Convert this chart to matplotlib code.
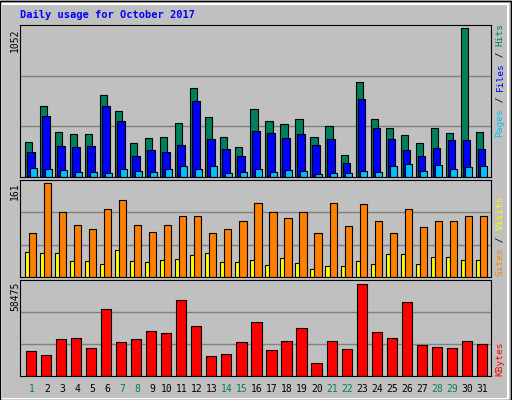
import matplotlib
matplotlib.use('Agg')
import matplotlib.pyplot as plt
from matplotlib.patches import Rectangle
import numpy as np

days = list(range(1, 32))
weekend = [1, 7, 8, 14, 15, 21, 22, 28, 29]

# bar tops read in zoomed pixel rows, converted to values below
hits_px = [427,319,397,403,403,286,334,430,415,412,370,265,352,412,442,328,364,373,358,412,379,466,247,358,385,406,430,385,400,88,397]
files_px = [457,349,439,442,439,319,364,469,451,457,436,304,418,448,469,394,400,415,403,436,418,487,298,385,418,451,469,445,421,421,448]
pages_px = [502,505,508,514,514,517,505,511,514,505,496,505,496,517,514,505,514,508,511,520,517,517,511,514,496,490,511,493,505,499,496]
sites_px = [160,13,100,136,148,91,64,136,157,136,112,112,160,148,124,73,100,115,100,160,73,139,76,124,160,91,142,124,124,112,112]
visits_px = [217,220,220,244,244,253,211,244,247,241,238,226,220,247,247,241,256,235,250,265,259,259,244,253,223,223,253,232,232,241,241]
kbytes_px = [514,526,478,475,505,388,487,478,454,460,361,439,529,523,487,427,511,484,445,547,484,508,313,457,475,367,496,502,505,484,493]

hits = [(530 - y) / 442 * 1052 for y in hits_px]
files = [(530 - y) / 442 * 1052 for y in files_px]
pages = [(530 - y) / 442 * 1052 for y in pages_px]
sites = [(290 - y) / 277 * 161 for y in sites_px]
visits = [(290 - y) / 277 * 161 for y in visits_px]
kbytes = [(587 - y) / 274 * 58475 for y in kbytes_px]

W, H = 512, 400
BG = '#C0C0C0'
fig = plt.figure(figsize=(W / 100, H / 100), dpi=100)
fig.patch.set_facecolor(BG)
fig.patches.append(Rectangle((1, 1), W - 5, H - 5, transform=None, fill=False,
                             edgecolor='white', lw=1.5))
fig.patches.append(Rectangle((0, 0), W - 1, H - 1, transform=None, fill=False,
                             edgecolor='black', lw=1))

mono = 'DejaVu Sans Mono'
ppd = 15.01
x0 = 20
xmax = 471 / ppd
d = np.arange(31)


def make_ax(top, bottom, ymax):
    ax = fig.add_axes([x0 / W, 1 - bottom / H, 471 / W, (bottom - top) / H])
    ax.set_facecolor(BG)
    ax.set_xlim(0, xmax)
    ax.set_ylim(0, ymax)
    ax.set_xticks([])
    ax.set_yticks([])
    for y in (ymax / 3, ymax * 2 / 3):
        ax.axhline(y, color='#808080', lw=1, zorder=0)
    for s in ax.spines.values():
        s.set_color('black')
    return ax


def bars(ax, off, w, vals, color):
    ax.bar(d + off, vals, width=w, align='edge', color=color,
           edgecolor='black', lw=0.8, zorder=2)


# panel 1
ax1 = make_ax(25, 177, 1052 * 147.3 / 147.3 * 1.02)
bars(ax1, 0.353, 0.47, hits, '#00805C')
bars(ax1, 0.486, 0.49, files, '#0000FF')
bars(ax1, 0.64, 0.47, pages, '#00C0FF')

# panel 2
ax2 = make_ax(180, 277, 161 * 1.03)
bars(ax2, 0.353, 0.31, visits, '#FFFF00')
bars(ax2, 0.62, 0.47, sites, '#FF8000')

# panel 3
ax3 = make_ax(280, 376, 58475 * 1.04)
bars(ax3, 0.42, 0.67, kbytes, '#FF0000')

fig.text(20 / W, 1 - 15 / H, 'Daily usage for October 2017', family=mono,
         weight='bold', color='#0000FF', fontsize=7.5, va='center')

fig.text(15 / W, 1 - 29 / H, '1052', rotation=90, family=mono, fontsize=7,
         ha='center', va='top')
fig.text(15 / W, 1 - 182 / H, '161', rotation=90, family=mono, fontsize=7,
         ha='center', va='top')
fig.text(15 / W, 1 - 282 / H, '58475', rotation=90, family=mono, fontsize=7,
         ha='center', va='top')


def side_label(parts, bottom_px):
    y = bottom_px
    for txt, col in parts:
        fig.text(500 / W, 1 - y / H, txt, rotation=90, family=mono,
                 fontsize=6.8, color=col, ha='center', va='bottom')
        y -= len(txt) * 5.7


side_label([('Pages', '#00C0FF'), (' / ', '#000000'), ('Files', '#0000FF'),
            (' / ', '#000000'), ('Hits', '#00805C')], 137)
side_label([('Sites', '#FF8000'), (' / ', '#000000'), ('Visits', '#FFFF00')], 276)
side_label([('KBytes', '#FF0000')], 376)

for i, day in enumerate(days):
    col = '#00805C' if day in weekend else 'black'
    fig.text((x0 + (i + 0.8) * ppd) / W, 1 - 389 / H, str(day), family=mono,
             fontsize=7, color=col, ha='center', va='center')

fig.savefig('out.png', dpi=100, facecolor=BG)
